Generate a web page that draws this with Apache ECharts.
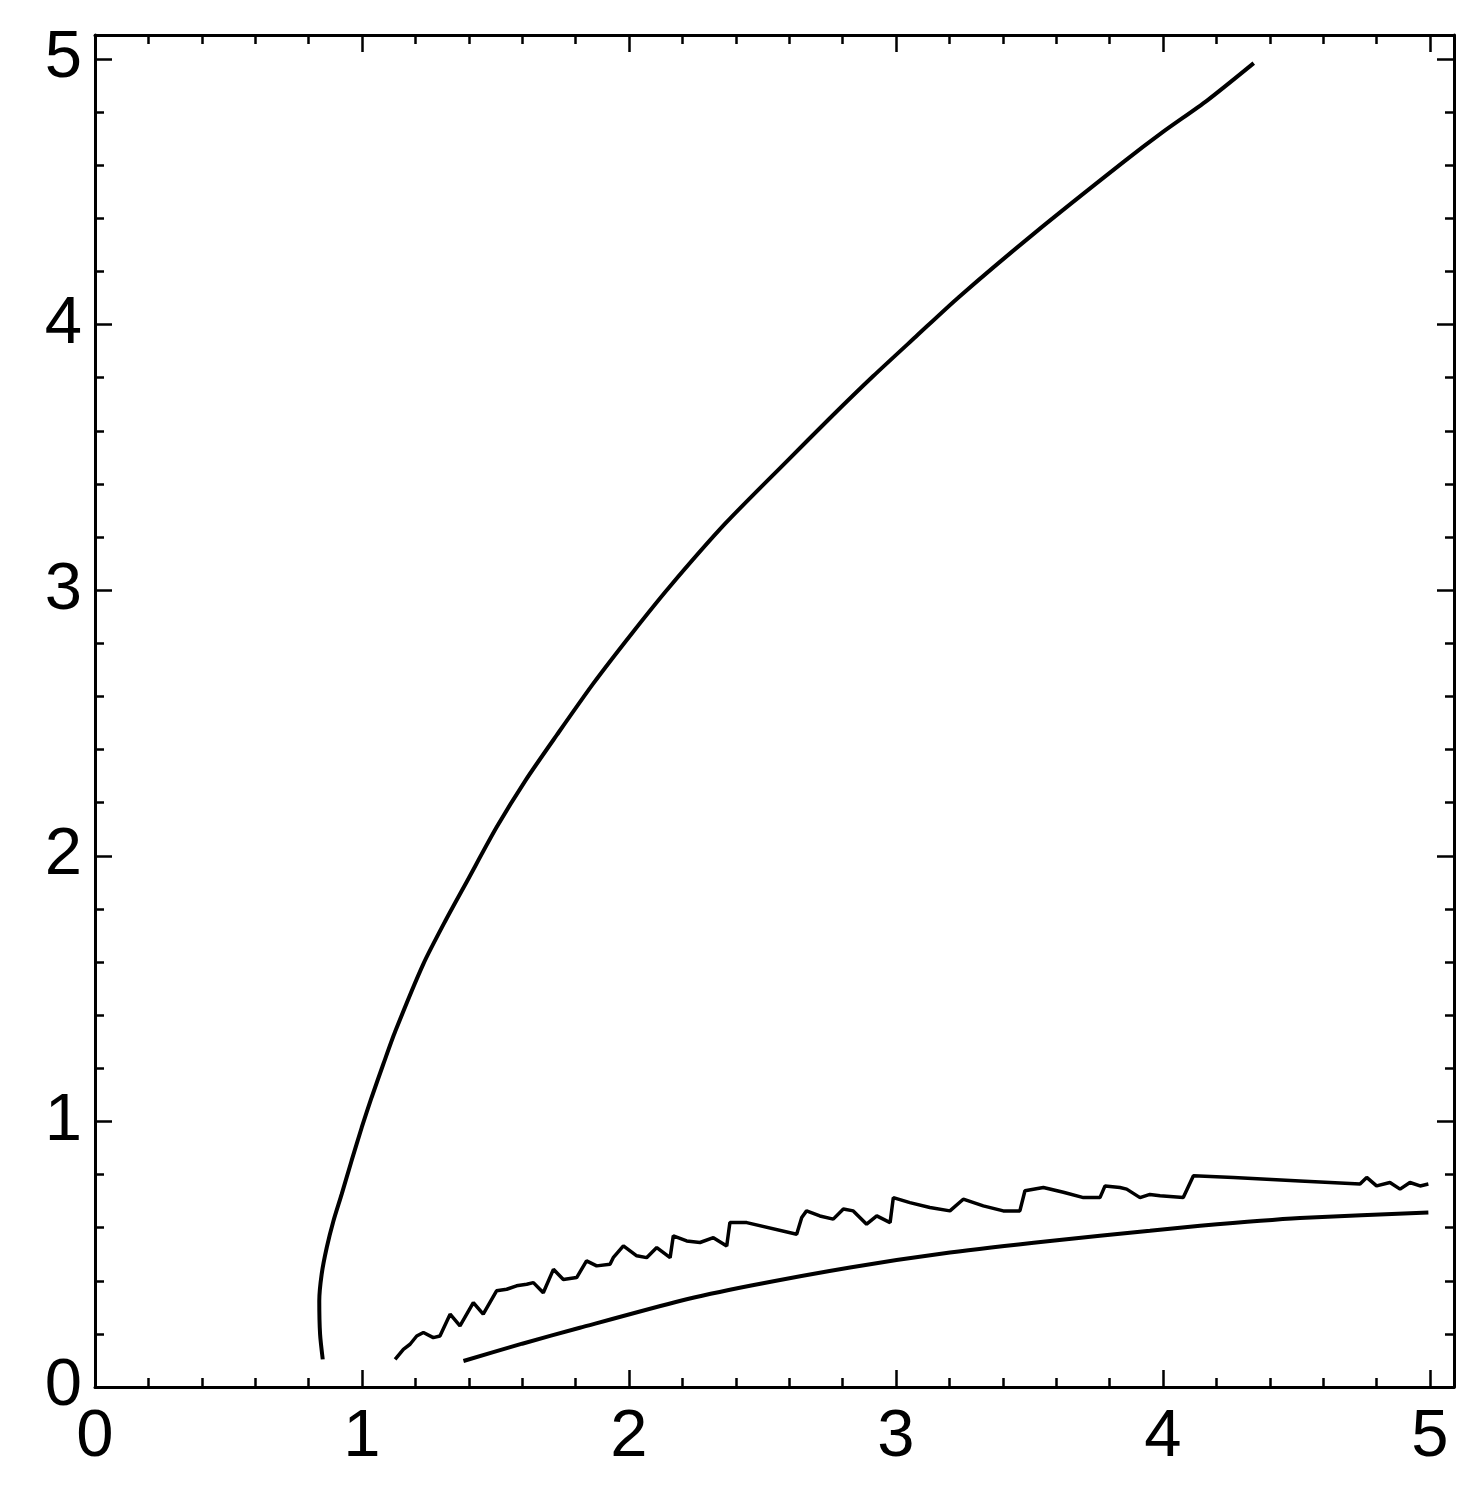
<!DOCTYPE html>
<html>
<head>
<meta charset="utf-8">
<script src="https://cdn.jsdelivr.net/npm/echarts@6/dist/echarts.min.js"></script>
<style>
html,body{margin:0;padding:0;background:#fff;}
#chart{width:1482px;height:1492px;}
</style>
</head>
<body>
<div id="chart"></div>
<script>
// Upper curve (x, y)
const upperCurve = [
  [0.853,0.104],[0.843,0.199],[0.840,0.324],[0.849,0.425],[0.868,0.525],
  [0.893,0.625],[0.924,0.726],[0.961,0.852],[0.999,0.977],[1.036,1.090],
  [1.080,1.216],[1.125,1.340],[1.230,1.593],[1.315,1.760],[1.395,1.907],
  [1.504,2.107],[1.612,2.283],[1.730,2.455],[1.866,2.648],[2.010,2.836],
  [2.150,3.010],[2.360,3.250],[2.590,3.484],[2.755,3.650],[2.915,3.806],
  [3.075,3.955],[3.235,4.103],[3.520,4.345],[3.855,4.614],[4.000,4.725],
  [4.165,4.843],[4.340,4.984]
];
// Noisy middle curve
const noisyCurve = [
  [1.124,0.104],[1.155,0.142],[1.180,0.161],[1.205,0.192],[1.230,0.205],
  [1.267,0.186],[1.292,0.192],[1.330,0.274],[1.367,0.230],[1.417,0.318],
  [1.454,0.274],[1.504,0.362],[1.542,0.368],[1.579,0.381],[1.617,0.387],
  [1.642,0.393],[1.679,0.355],[1.717,0.443],[1.754,0.405],[1.804,0.412],
  [1.841,0.475],[1.879,0.456],[1.929,0.462],[1.941,0.487],[1.979,0.531],
  [2.029,0.494],[2.066,0.487],[2.104,0.525],[2.154,0.487],[2.166,0.569],
  [2.216,0.550],[2.266,0.544],[2.316,0.562],[2.366,0.531],[2.378,0.619],
  [2.441,0.619],[2.628,0.575],[2.647,0.638],[2.665,0.663],[2.715,0.644],
  [2.765,0.632],[2.803,0.670],[2.840,0.663],[2.890,0.613],[2.928,0.644],
  [2.978,0.619],[2.990,0.713],[3.052,0.694],[3.127,0.676],[3.202,0.663],
  [3.252,0.707],[3.327,0.682],[3.402,0.663],[3.464,0.663],[3.483,0.739],
  [3.552,0.751],[3.627,0.733],[3.702,0.713],[3.764,0.713],[3.783,0.757],
  [3.839,0.751],[3.864,0.745],[3.914,0.713],[3.951,0.725],[3.989,0.720],
  [4.076,0.713],[4.114,0.795],[4.264,0.789],[4.513,0.776],[4.738,0.764],
  [4.763,0.789],[4.800,0.757],[4.850,0.770],[4.888,0.745],[4.925,0.770],
  [4.963,0.757],[4.994,0.764]
];
// Lower smooth curve
const lowerCurve = [
  [1.380,0.098],[1.600,0.163],[1.816,0.223],[2.190,0.324],[2.453,0.381],
  [2.828,0.450],[3.202,0.506],[3.577,0.550],[3.951,0.588],[4.139,0.607],
  [4.513,0.636],[4.994,0.657]
];
const axisMin = 0;
const axisMax = 5.09;
const tickLabels = [0,1,2,3,4,5];

const black = '#000';
const labelStyle = {
  color: black, fontSize: 67, fontFamily: 'Liberation Sans, Arial, sans-serif',
  formatter: v => tickLabels.indexOf(Math.round(v*1000)/1000) >= 0 ? String(Math.round(v)) : ''
};
function mkAxis(pos, major, withLabel, isX) {
  return {
    type: 'value', position: pos, min: axisMin, max: axisMax,
    interval: major ? 1 : 0.2,
    axisLine: { show: major, onZero: false, lineStyle: { color: black, width: 3 } },
    axisTick: { show: true, inside: true, length: major ? 17 : 9, lineStyle: { color: black, width: 2.5 } },
    axisLabel: withLabel ? Object.assign({ margin: isX ? 17 : 13 }, labelStyle) : { show: false },
    splitLine: { show: false }
  };
}
const chart = echarts.init(document.getElementById('chart'), null, { renderer: 'canvas' });
const lineBase = { type: 'line', showSymbol: false, symbol: 'none', xAxisIndex: 0, yAxisIndex: 0,
  animation: false, lineStyle: { color: black, width: 4 } };
chart.setOption({
  animation: false,
  backgroundColor: '#fff',
  grid: { left: 95, top: 35, right: 28, bottom: 105, containLabel: false },
  xAxis: [
    mkAxis('bottom', true, true, true),
    mkAxis('bottom', false, false, true),
    mkAxis('top', true, false, true),
    mkAxis('top', false, false, true)
  ],
  yAxis: [
    mkAxis('left', true, true, false),
    mkAxis('left', false, false, false),
    mkAxis('right', true, false, false),
    mkAxis('right', false, false, false)
  ],
  series: [
    Object.assign({}, lineBase, { data: upperCurve, smooth: 0.25 }),
    Object.assign({}, lineBase, { data: noisyCurve, smooth: false, lineStyle: { color: black, width: 3.5 } }),
    Object.assign({}, lineBase, { data: lowerCurve, smooth: 0.2 })
  ]
});
</script>
</body>
</html>
